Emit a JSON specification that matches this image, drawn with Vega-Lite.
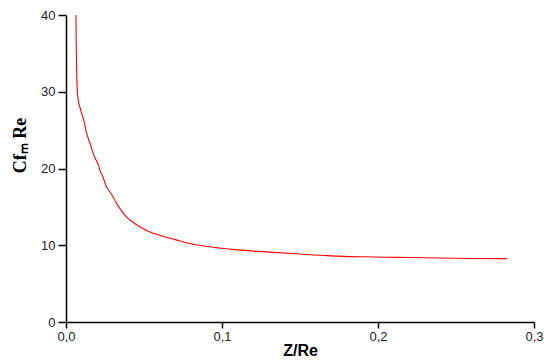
{
  "$schema": "https://vega.github.io/schema/vega-lite/v6.json",
  "autosize": {"type": "none"},
  "padding": {"left": 66, "top": 15, "right": 10, "bottom": 40},
  "width": 468,
  "height": 307,
  "background": "white",
  "config": {"view": {"stroke": null}},
  "data": {"values": [
    {"z": 0.0064, "c": 40}, {"z": 0.0065, "c": 37}, {"z": 0.0067, "c": 34}, {"z": 0.0069, "c": 32},
    {"z": 0.0072, "c": 30.3}, {"z": 0.0078, "c": 29}, {"z": 0.0089, "c": 28}, {"z": 0.0100, "c": 27.2},
    {"z": 0.0115, "c": 26.2}, {"z": 0.0132, "c": 24.6}, {"z": 0.0145, "c": 23.8}, {"z": 0.016, "c": 22.9},
    {"z": 0.0174, "c": 22}, {"z": 0.019, "c": 21.2}, {"z": 0.0205, "c": 20.6}, {"z": 0.0217, "c": 19.8},
    {"z": 0.0235, "c": 19.0}, {"z": 0.026, "c": 17.6}, {"z": 0.028, "c": 17.0}, {"z": 0.0302, "c": 16.3},
    {"z": 0.032, "c": 15.6}, {"z": 0.0345, "c": 14.8}, {"z": 0.0387, "c": 13.7}, {"z": 0.043, "c": 13.0},
    {"z": 0.0472, "c": 12.4}, {"z": 0.053, "c": 11.8}, {"z": 0.06, "c": 11.3}, {"z": 0.0706, "c": 10.7},
    {"z": 0.08, "c": 10.2}, {"z": 0.0919, "c": 9.8}, {"z": 0.11, "c": 9.4}, {"z": 0.128, "c": 9.14},
    {"z": 0.15, "c": 8.85}, {"z": 0.17, "c": 8.62}, {"z": 0.19, "c": 8.5}, {"z": 0.213, "c": 8.42},
    {"z": 0.24, "c": 8.33}, {"z": 0.26, "c": 8.28}, {"z": 0.283, "c": 8.25}
  ]},
  "mark": {"type": "line", "color": "#ff0000", "strokeWidth": 1.1, "interpolate": "monotone"},
  "encoding": {
    "x": {
      "field": "z", "type": "quantitative",
      "scale": {"domain": [0, 0.3], "nice": false, "zero": false},
      "axis": {
        "values": [0, 0.1, 0.2, 0.3],
        "labelExpr": "replace(format(datum.value, '.1f'), '.', ',')",
        "title": "Z/Re", "titleFont": "Liberation Sans", "titleFontSize": 16, "titleFontWeight": "bold",
        "titleColor": "#000", "titlePadding": -1,
        "labelFont": "Liberation Sans", "labelFontSize": 13, "labelColor": "#222",
        "domainColor": "#000", "domainWidth": 1.5, "tickColor": "#000", "tickWidth": 1.5, "tickSize": 6,
        "grid": false, "labelPadding": 2, "labelFlush": false
      }
    },
    "y": {
      "field": "c", "type": "quantitative",
      "scale": {"domain": [0, 40], "nice": false},
      "axis": {
        "values": [0, 10, 20, 30, 40],
        "title": "Cfₘ Re", "titleFont": "Liberation Serif", "titleFontSize": 18, "titleFontWeight": "bold",
        "titleColor": "#000", "titleX": -37, "titleY": 130,
        "labelFont": "Liberation Sans", "labelFontSize": 13, "labelColor": "#222",
        "domainColor": "#000", "domainWidth": 1.5, "tickColor": "#000", "tickWidth": 1.5, "tickSize": 8,
        "grid": false, "labelPadding": 3, "labelFlush": false
      }
    }
  }
}
